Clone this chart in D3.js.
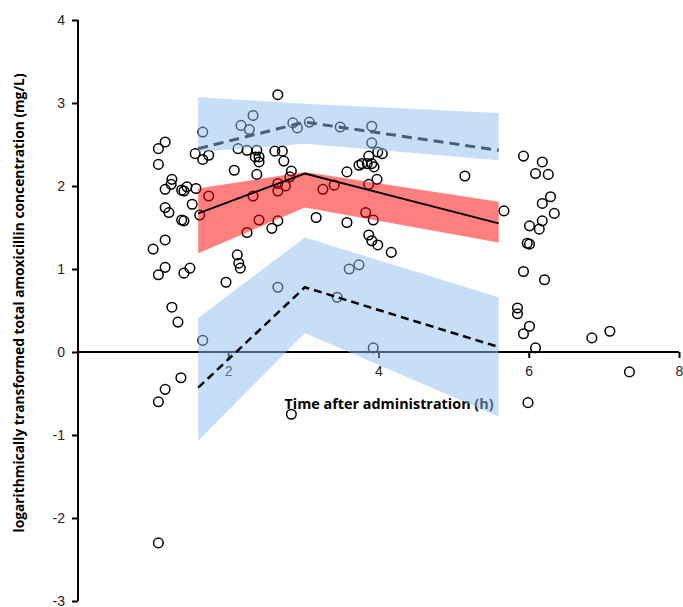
<!DOCTYPE html>
<html>

<head>
    <meta http-equiv="Content-Type" content="text/html; charset=utf-8">
    <title>Amoxicillin concentration VPC</title>
    <style type="text/css">
        body {
            margin: 0;
            font-family: "Open Sans", "Liberation Sans", Arial, sans-serif;
        }
        .obs {
            fill: none;
            stroke: #000;
            stroke-width: 1.5;
        }
    </style>
</head>

<body>
    <script src="https://cdn.jsdelivr.net/npm/d3@7/dist/d3.min.js"></script>
    <script>
        // observed values (time in h, log concentration)
        var obsTime = [1.16, 1.07, 1.66, 1.07, 1.56, 1.66, 1.74, 2.08, 1.25, 1.24, 1.16, 1.38, 1.41, 1.45, 1.57, 1.74,
            1.52, 1.16, 1.21, 1.62, 1.38, 1.41, 1.16, 1.00, 2.12, 2.14, 2.16, 1.16, 1.07, 1.49, 1.41, 1.97, 1.25, 1.33,
            1.66, 1.37, 1.16, 1.07, 2.84, 1.07,
            2.66, 2.33, 2.17, 2.28, 2.86, 2.92, 3.08, 2.13, 2.25, 2.38, 2.62, 2.72, 2.36, 2.41, 2.41, 2.74, 2.38, 2.84,
            2.82, 2.66, 2.76, 2.66, 2.33, 3.26, 2.41, 2.25, 2.66, 2.58, 3.17, 2.66,
            3.49, 3.91, 3.91, 3.99, 4.05, 3.87, 3.78, 3.74, 3.85, 3.91, 3.94, 3.58, 3.98, 3.87, 3.41, 3.83, 3.93, 3.58,
            3.87, 3.91, 3.99, 4.17, 3.61, 3.74, 3.45, 3.93,
            5.15, 5.67, 5.93, 6.18, 6.09, 6.26, 6.29, 6.18, 6.34, 6.18, 6.01, 6.14, 5.98, 6.01, 5.93, 6.21, 5.85, 5.85,
            6.01, 5.93, 6.09, 6.84, 7.08, 7.34, 5.99];
        var obsConc = [2.53, 2.45, 2.65, 2.26, 2.39, 2.32, 2.37, 2.19, 2.08, 2.02, 1.96, 1.95, 1.94, 1.99, 1.97, 1.88,
            1.78, 1.74, 1.68, 1.65, 1.59, 1.58, 1.35, 1.24, 1.17, 1.07, 1.01, 1.02, 0.93, 1.01, 0.95, 0.84, 0.54, 0.36,
            0.14, -0.31, -0.45, -0.60, -0.75, -2.30,
            3.10, 2.85, 2.73, 2.68, 2.76, 2.70, 2.77, 2.45, 2.43, 2.43, 2.42, 2.42, 2.35, 2.35, 2.29, 2.30, 2.14, 2.18,
            2.11, 2.03, 2.00, 1.94, 1.88, 1.96, 1.59, 1.44, 1.58, 1.49, 1.62, 0.78,
            2.71, 2.72, 2.52, 2.41, 2.39, 2.36, 2.27, 2.25, 2.27, 2.27, 2.23, 2.17, 2.08, 2.02, 2.01, 1.68, 1.59, 1.56,
            1.41, 1.34, 1.29, 1.20, 1.00, 1.05, 0.66, 0.05,
            2.12, 1.70, 2.36, 2.29, 2.15, 2.14, 1.87, 1.79, 1.67, 1.58, 1.52, 1.48, 1.31, 1.30, 0.97, 0.87, 0.53, 0.46,
            0.31, 0.22, 0.05, 0.17, 0.25, -0.24, -0.61];

        // prediction bands
        var bandTime = [1.6, 3.02, 5.6];
        var upperHi = [3.07, 2.99, 2.88],
            upperMed = [2.45, 2.77, 2.43],
            upperLo = [2.41, 2.51, 2.31];
        var midHi = [1.97, 2.17, 1.81],
            midMed = [1.67, 2.15, 1.55],
            midLo = [1.19, 1.74, 1.32];
        var lowHi = [0.41, 1.38, 0.66],
            lowMed = [-0.43, 0.78, 0.06],
            lowLo = [-1.07, 0.23, -0.78];

        var xTicks = [2, 4, 6, 8];
        var yTicks = [-3, -2, -1, 0, 1, 2, 3, 4];

        var width = 683,
            height = 607;
        var x = d3.scaleLinear().domain([0, 8]).range([78, 679]);
        var y = d3.scaleLinear().domain([-3, 4]).range([601, 20]);

        var svg = d3.select("body").append("svg")
            .attr("width", width)
            .attr("height", height);

        var fmt = function (d) { return String(d); };

        // y axis
        var yAxis = svg.append("g")
            .attr("transform", "translate(" + x(0) + ",0)")
            .call(d3.axisLeft(y).tickValues(yTicks).tickSize(6).tickPadding(7).tickFormat(fmt));
        yAxis.select(".domain").attr("stroke-width", 2).attr("d", "M0," + y(-3) + "V" + y(4));
        yAxis.selectAll(".tick line").attr("stroke-width", 2);
        yAxis.selectAll(".tick text").style("font-size", "14px").attr("fill", "#222");

        // x axis through zero
        var xAxis = svg.append("g")
            .attr("transform", "translate(0," + y(0) + ")")
            .call(d3.axisBottom(x).tickValues(xTicks).tickSize(6).tickPadding(8).tickFormat(fmt));
        xAxis.select(".domain").attr("stroke-width", 2).attr("d", "M" + x(0) + ",0H" + x(8));
        xAxis.selectAll(".tick line").attr("stroke-width", 2);
        xAxis.selectAll(".tick text").style("font-size", "14px").attr("fill", "#222");

        svg.append("text")
            .attr("x", 389)
            .attr("y", 409)
            .attr("text-anchor", "middle")
            .style("font-size", "14.4px")
            .style("font-weight", "bold")
            .text("Time after administration (h)");

        svg.append("text")
            .attr("transform", "translate(24,303) rotate(-90)")
            .attr("text-anchor", "middle")
            .style("font-size", "13.8px")
            .style("font-weight", "bold")
            .text("logarithmically transformed total amoxicillin concentration (mg/L)");

        // observations
        svg.append("g").selectAll("circle")
            .data(d3.range(obsTime.length))
            .enter().append("circle")
            .attr("class", "obs")
            .attr("cx", function (i) { return x(obsTime[i]); })
            .attr("cy", function (i) { return y(obsConc[i]); })
            .attr("r", 4.8);

        var line = d3.line()
            .x(function (d) { return x(d[0]); })
            .y(function (d) { return y(d[1]); });
        var area = d3.area()
            .x(function (d) { return x(d[0]); })
            .y0(function (d) { return y(d[1]); })
            .y1(function (d) { return y(d[2]); });

        function pts(a) {
            return bandTime.map(function (t, i) { return [t, a[i]]; });
        }
        function band(lo, hi) {
            return bandTime.map(function (t, i) { return [t, lo[i], hi[i]]; });
        }

        // upper median sits under its band
        svg.append("path")
            .attr("d", line(pts(upperMed)))
            .attr("fill", "none")
            .attr("stroke", "#000")
            .attr("stroke-width", 3)
            .attr("stroke-dasharray", "10,6");

        svg.append("path").attr("d", area(band(upperLo, upperHi)))
            .attr("fill", "#8dbdf1").attr("fill-opacity", 0.5);
        svg.append("path").attr("d", area(band(midLo, midHi)))
            .attr("fill", "#ff0000").attr("fill-opacity", 0.5);
        svg.append("path").attr("d", area(band(lowLo, lowHi)))
            .attr("fill", "#8dbdf1").attr("fill-opacity", 0.5);

        svg.append("path")
            .attr("d", line(pts(midMed)))
            .attr("fill", "none")
            .attr("stroke", "#000")
            .attr("stroke-width", 2);

        svg.append("path")
            .attr("d", line(pts(lowMed)))
            .attr("fill", "none")
            .attr("stroke", "#000")
            .attr("stroke-width", 2.5)
            .attr("stroke-dasharray", "8,5");
    </script>
</body>

</html>
